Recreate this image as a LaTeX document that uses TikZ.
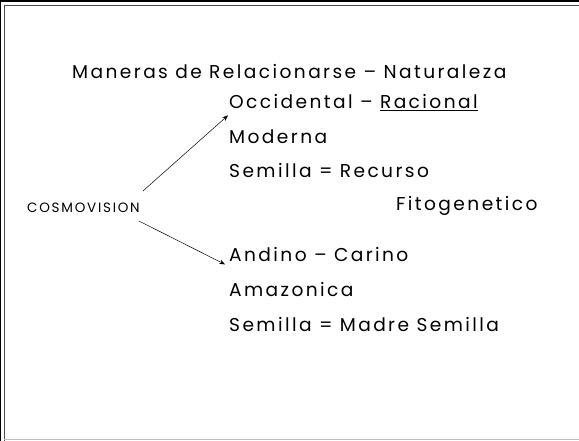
\documentclass[tikz,border=0pt]{standalone}
\usepackage{fontspec}
\setmainfont{Poppins}[LetterSpace=13]
\usetikzlibrary{arrows.meta,positioning}
\tikzset{
  ttl/.style={font=\fontsize{18.6}{20}\selectfont,anchor=west,inner sep=0pt},
  itm/.style={font=\fontsize{18.6}{20}\selectfont,anchor=west,inner sep=0pt},
  sml/.style={font=\fontsize{13.5}{15}\selectfont,anchor=west,inner sep=0pt},
  ar/.style ={-{Stealth[length=2mm,width=1.6mm]},line width=.5pt},
}
\begin{document}
\begin{tikzpicture}[x=1pt,y=-1pt]
  \useasboundingbox (0,0) rectangle (579,441);
  % slide frame
  \fill[black] (0,0) rectangle (579,2.5);
  \draw[black!70,line width=1pt] (4,5.5) -- (579,5.5);
  \draw[black,line width=1.2pt] (0.8,0) -- (0.8,441);
  \draw[black!70,line width=1pt] (4,5.5) -- (4,441);
  \draw[black!25,line width=1pt] (4,439.5) -- (579,439.5);
  % texts
  \node[ttl] (title) at (72,72){Maneras de Relacionarse -- Naturaleza};
  \node[itm] (occ) at (229,103){Occidental -- \underline{Racional}};
  \node[itm] (mod) at (229,137){Moderna};
  \node[itm] (rec) at (229,171){Semilla = Recurso};
  \node[itm] (fito) at (396,206){Fitogenetico};
  \node[sml] (cosmo) at (27,208){COSMOVISION};
  \node[itm] (and) at (229,255){Andino -- Carino};
  \node[itm] (ama) at (229,290){Amazonica};
  \node[itm] (mad) at (229,325){Semilla = Madre Semilla};
  % arrows
  \draw[ar] ([xshift=3pt,yshift=12pt]cosmo.north east) -- ([xshift=-1pt,yshift=-4pt]occ.south west);
  \draw[ar] ([xshift=-1pt,yshift=-8pt]cosmo.south east) -- ([xshift=-4pt,yshift=-2pt]and.south west);
\end{tikzpicture}
\end{document}
